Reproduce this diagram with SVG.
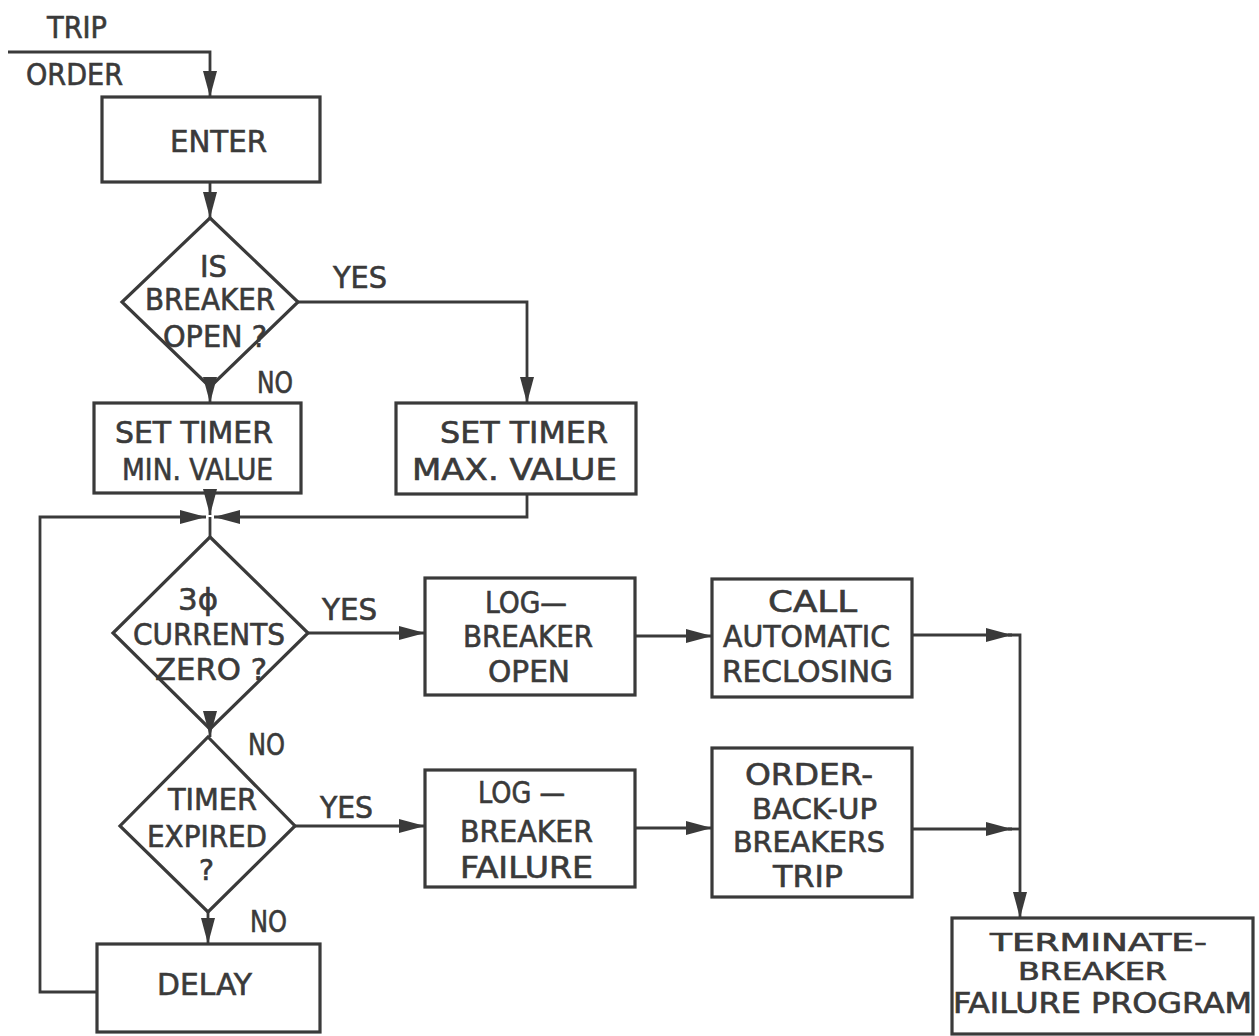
<svg xmlns="http://www.w3.org/2000/svg" width="1259" height="1036" viewBox="0 0 1259 1036">
<style>
.box{fill:none;stroke:#3a3a3a;stroke-width:3.2}
.ln{fill:none;stroke:#3a3a3a;stroke-width:2.8}
.t{font-family:"DejaVu Sans Condensed","DejaVu Sans",sans-serif;font-size:31px;fill:#3a3a3a;stroke:#3a3a3a;stroke-width:0.6}
.s{font-size:28px}
.xs{font-size:25px}
</style>
<defs>
<marker id="ah" markerUnits="userSpaceOnUse" markerWidth="28" markerHeight="16" refX="26" refY="7" orient="auto">
<path d="M0,0 L26,7 L0,14 z" fill="#3a3a3a"/>
</marker>
</defs>
<rect width="1259" height="1036" fill="#ffffff"/>

<g id="labels-input">
<text class="t" x="47" y="38" textLength="60" lengthAdjust="spacingAndGlyphs">TRIP</text>
<text class="t" x="26" y="85" textLength="97" lengthAdjust="spacingAndGlyphs">ORDER</text>
</g>

<g id="enter">
<rect class="box" x="102" y="97" width="218" height="85"/>
<text class="t" x="170" y="152" textLength="97" lengthAdjust="spacingAndGlyphs">ENTER</text>
</g>

<g id="d-breaker-open">
<polygon class="box" points="210,218 298,302 210,387 122,302"/>
<text class="t" x="200" y="277" textLength="27" lengthAdjust="spacingAndGlyphs">IS</text>
<text class="t" x="145" y="310" textLength="130" lengthAdjust="spacingAndGlyphs">BREAKER</text>
<text class="t" x="163" y="347" textLength="104" lengthAdjust="spacingAndGlyphs">OPEN ?</text>
</g>

<g id="set-min">
<rect class="box" x="94" y="403" width="207" height="90"/>
<text class="t" x="115" y="443" textLength="158" lengthAdjust="spacingAndGlyphs">SET TIMER</text>
<text class="t" x="122" y="480" textLength="151" lengthAdjust="spacingAndGlyphs">MIN. VALUE</text>
</g>

<g id="set-max">
<rect class="box" x="396" y="403" width="240" height="91"/>
<text class="t" x="440" y="443" textLength="168" lengthAdjust="spacingAndGlyphs">SET TIMER</text>
<text class="t" x="412" y="480" textLength="205" lengthAdjust="spacingAndGlyphs">MAX. VALUE</text>
</g>

<g id="d-currents-zero">
<polygon class="box" points="210,537 308,633 210,729 113,633"/>
<text class="t" x="178" y="610" textLength="40" lengthAdjust="spacingAndGlyphs">3ϕ</text>
<text class="t" x="133" y="645" textLength="152" lengthAdjust="spacingAndGlyphs">CURRENTS</text>
<text class="t" x="155" y="680" textLength="112" lengthAdjust="spacingAndGlyphs">ZERO ?</text>
</g>

<g id="log-open">
<rect class="box" x="425" y="578" width="210" height="117"/>
<text class="t" x="485" y="613" textLength="82" lengthAdjust="spacingAndGlyphs">LOG—</text>
<text class="t" x="463" y="647" textLength="130" lengthAdjust="spacingAndGlyphs">BREAKER</text>
<text class="t" x="488" y="682" textLength="82" lengthAdjust="spacingAndGlyphs">OPEN</text>
</g>

<g id="call-reclosing">
<rect class="box" x="712" y="579" width="200" height="118"/>
<text class="t" x="768" y="612" textLength="89" lengthAdjust="spacingAndGlyphs">CALL</text>
<text class="t" x="723" y="647" textLength="167" lengthAdjust="spacingAndGlyphs">AUTOMATIC</text>
<text class="t" x="722" y="682" textLength="171" lengthAdjust="spacingAndGlyphs">RECLOSING</text>
</g>

<g id="d-timer-expired">
<polygon class="box" points="208,737 295,826 208,912 120,826"/>
<text class="t" x="168" y="810" textLength="89" lengthAdjust="spacingAndGlyphs">TIMER</text>
<text class="t" x="147" y="847" textLength="120" lengthAdjust="spacingAndGlyphs">EXPIRED</text>
<text class="t s" x="199" y="880" textLength="15" lengthAdjust="spacingAndGlyphs">?</text>
</g>

<g id="log-failure">
<rect class="box" x="425" y="770" width="210" height="117"/>
<text class="t" x="478" y="803" textLength="87" lengthAdjust="spacingAndGlyphs">LOG —</text>
<text class="t" x="460" y="842" textLength="133" lengthAdjust="spacingAndGlyphs">BREAKER</text>
<text class="t" x="460" y="878" textLength="133" lengthAdjust="spacingAndGlyphs">FAILURE</text>
</g>

<g id="order-backup">
<rect class="box" x="712" y="748" width="200" height="149"/>
<text class="t" x="745" y="785" textLength="128" lengthAdjust="spacingAndGlyphs">ORDER-</text>
<text class="t s" x="752" y="819" textLength="125" lengthAdjust="spacingAndGlyphs">BACK-UP</text>
<text class="t s" x="733" y="852" textLength="152" lengthAdjust="spacingAndGlyphs">BREAKERS</text>
<text class="t" x="773" y="887" textLength="70" lengthAdjust="spacingAndGlyphs">TRIP</text>
</g>

<g id="delay">
<rect class="box" x="97" y="944" width="223" height="88"/>
<text class="t" x="157" y="995" textLength="95" lengthAdjust="spacingAndGlyphs">DELAY</text>
</g>

<g id="terminate">
<rect class="box" x="952" y="918" width="301" height="116"/>
<text class="t xs" x="990" y="951" textLength="217" lengthAdjust="spacingAndGlyphs">TERMINATE-</text>
<text class="t xs" x="1018" y="980" textLength="149" lengthAdjust="spacingAndGlyphs">BREAKER</text>
<text class="t s" x="953" y="1013" textLength="299" lengthAdjust="spacingAndGlyphs">FAILURE PROGRAM</text>
</g>

<g id="connectors">
<polyline class="ln" points="8,52 210,52 210,97" marker-end="url(#ah)"/>
<line class="ln" x1="210" y1="182" x2="210" y2="218" marker-end="url(#ah)"/>
<polyline class="ln" points="298,302 527,302 527,403" marker-end="url(#ah)"/>
<line class="ln" x1="210" y1="387" x2="210" y2="403" marker-end="url(#ah)"/>
<line class="ln" x1="210" y1="493" x2="210" y2="515" marker-end="url(#ah)"/>
<polyline class="ln" points="527,494 527,517 214,517" marker-end="url(#ah)"/>
<polyline class="ln" points="97,992 40,992 40,517 206,517" marker-end="url(#ah)"/>
<line class="ln" x1="210" y1="517" x2="210" y2="537"/>
<line class="ln" x1="308" y1="633" x2="425" y2="633" marker-end="url(#ah)"/>
<line class="ln" x1="210" y1="729" x2="210" y2="737" marker-end="url(#ah)"/>
<line class="ln" x1="295" y1="826" x2="425" y2="826" marker-end="url(#ah)"/>
<line class="ln" x1="208" y1="912" x2="208" y2="944" marker-end="url(#ah)"/>
<line class="ln" x1="635" y1="636" x2="712" y2="636" marker-end="url(#ah)"/>
<line class="ln" x1="635" y1="828" x2="712" y2="828" marker-end="url(#ah)"/>
<line class="ln" x1="912" y1="635" x2="1012" y2="635" marker-end="url(#ah)"/>
<line class="ln" x1="912" y1="829" x2="1012" y2="829" marker-end="url(#ah)"/>
<polyline class="ln" points="1008,635 1020,635 1020,918" marker-end="url(#ah)"/>
<line class="ln" x1="1008" y1="829" x2="1020" y2="829"/>
</g>

<g id="branch-labels">
<text class="t" x="333" y="288" textLength="54" lengthAdjust="spacingAndGlyphs">YES</text>
<text class="t" x="257" y="393" textLength="36" lengthAdjust="spacingAndGlyphs">NO</text>
<text class="t" x="322" y="620" textLength="55" lengthAdjust="spacingAndGlyphs">YES</text>
<text class="t" x="248" y="755" textLength="37" lengthAdjust="spacingAndGlyphs">NO</text>
<text class="t" x="320" y="818" textLength="53" lengthAdjust="spacingAndGlyphs">YES</text>
<text class="t" x="250" y="932" textLength="37" lengthAdjust="spacingAndGlyphs">NO</text>
</g>
</svg>
